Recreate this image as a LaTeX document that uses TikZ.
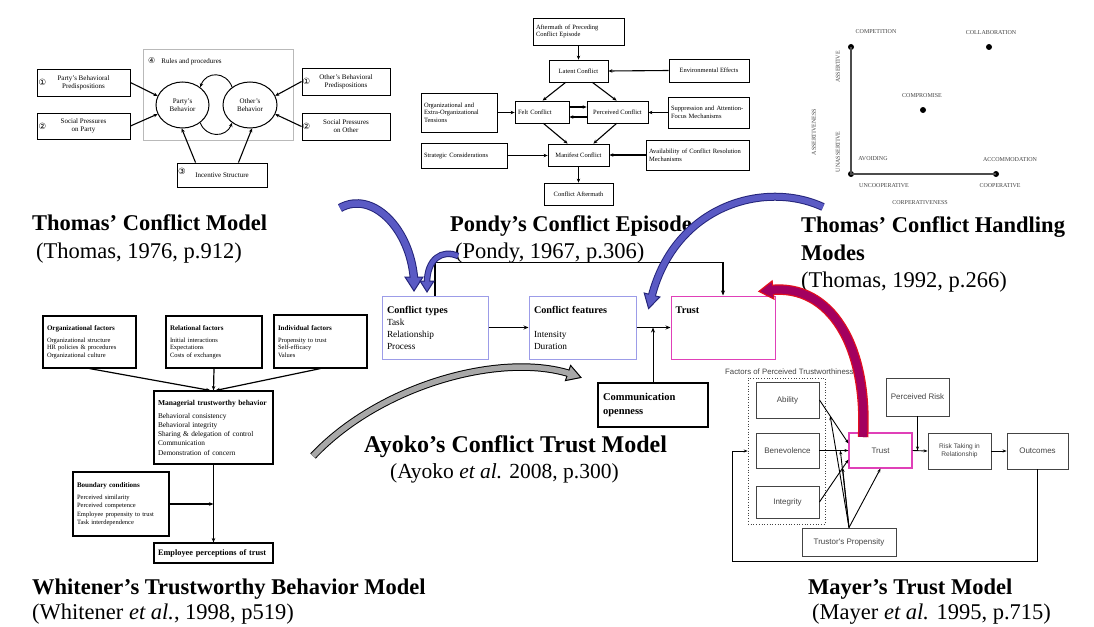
\documentclass[tikz,border=0pt]{standalone}
\usepackage{fontspec}
\setmainfont{Liberation Serif}
\newfontfamily\sansf{Liberation Sans}
\newfontfamily\symf{DejaVu Sans}
\usetikzlibrary{arrows.meta,shapes.geometric,calc}
\definecolor{lav}{HTML}{9C9CE8}
\definecolor{pinkb}{HTML}{E040B8}
\definecolor{bluefill}{HTML}{5A5AC4}
\definecolor{blueline}{HTML}{24247A}
\definecolor{redfill}{HTML}{A3005F}
\definecolor{redline}{HTML}{E2101E}
\definecolor{greyfill}{HTML}{A8A8A8}
\definecolor{mgray}{HTML}{444444}
\newcommand{\setfs}[2]{\fontsize{#1}{#2}\selectfont}

\begin{document}
\begin{tikzpicture}[x=1pt,y=-1pt,
  every node/.style={inner sep=0pt},
  % Thomas' conflict model
  tcm/.style={draw, line width=0.9pt, font=\setfs{7}{8}, align=center},
  circ/.style={font=\symf\setfs{8.5}{9}, anchor=west},
  tarr/.style={->, line width=1.1pt, >={Stealth[length=4pt,width=3.5pt]}},
  % Pondy's episode
  pbx/.style={draw, line width=0.8pt, font=\setfs{6.5}{7.6}, align=center},
  pbl/.style={pbx, align=left, inner xsep=3pt, text width=#1},
  parr/.style={->, line width=1.1pt, >={Stealth[length=4pt,width=3.5pt]}},
  % handling modes
  mode/.style={font=\setfs{6}{7}, text=mgray},
  mdot/.style={circle, fill=black, minimum size=6pt},
  % Ayoko's model
  abx/.style={draw=lav, line width=1pt, align=left, inner xsep=5pt, text width=#1, font=\setfs{9.3}{12}},
  aarr/.style={->, line width=1pt, >={Stealth[length=5pt,width=4pt]}},
  % Whitener's model
  wbx/.style={draw, line width=1.1pt, align=left, inner xsep=4pt, text width=#1, font=\setfs{6.5}{7.5}},
  warr/.style={->, line width=1.2pt, >={Stealth[length=4.5pt,width=3.5pt]}},
  % Mayer's model
  mbx/.style={draw=mgray, line width=0.9pt, font=\sansf\setfs{8}{9.5}, text=mgray, align=center},
  marr/.style={->, line width=0.9pt, >={Stealth[length=4pt,width=3pt]}},
  % captions
  ttl/.style={anchor=base west, font=\bfseries\setfs{22.5}{27}},
  cite/.style={anchor=base west, font=\setfs{22.5}{27}},
]
\path[use as bounding box, fill=white] (0,0) rectangle (1094,626);

% ---------------- Thomas' Conflict Model ----------------
\node[draw=gray!55, line width=0.9pt, minimum width=150pt, minimum height=91pt] (rules) at (218,94.5) {};
\node[anchor=west, font=\setfs{7}{8}] (rulestxt) at (148,61) {{\symf\setfs{8}{9}④}\hspace{6pt}Rules and procedures};
\node[ellipse, draw, line width=1pt, minimum width=53pt, minimum height=46pt, align=center, font=\setfs{7}{8}] (party) at (182.5,105) {Party's\\Behavior};
\node[ellipse, draw, line width=1pt, minimum width=54pt, minimum height=46pt, align=center, font=\setfs{7}{8}] (other) at (250,105) {Other's\\Behavior};
\draw[tarr, line width=0.9pt] (other.135) .. controls (226,71) and (206,71) .. (party.45);
\draw[tarr, line width=0.9pt] (party.-45) .. controls (206,138) and (226,138) .. (other.-135);

\node[tcm, minimum width=93pt, minimum height=27pt] (pbp) at (83.5,82.5) {Party's Behavioral\\Predispositions};
\node[circ] (n1a) at (38.5,82.5) {①};
\node[tcm, minimum width=93pt, minimum height=26pt] (spp) at (83.5,126) {Social Pressures\\on Party};
\node[circ] (n2a) at (38.5,126) {②};
\node[tcm, minimum width=88pt, minimum height=27pt] (obp) at (346,81.5) {Other's Behavioral\\Predispositions};
\node[circ] (n1b) at (302.5,81.5) {①};
\node[tcm, minimum width=88pt, minimum height=27pt] (spo) at (346,126.5) {Social Pressures\\on Other};
\node[circ] (n2b) at (302.5,126.5) {②};
\node[tcm, minimum width=90pt, minimum height=24pt] (inc) at (222,175) {Incentive Structure};
\node[circ] (n3) at (178,171) {③};

\draw[tarr] (pbp.east) -- (party.160);
\draw[tarr] (spp.east) -- (party.200);
\draw[tarr] (obp.west) -- (other.20);
\draw[tarr] (spo.west) -- (other.-20);
\draw[tarr] ([xshift=19pt]inc.north west) -- (party.-92);
\draw[tarr] ([xshift=-29pt]inc.north east) -- (other.-85);

% ---------------- Pondy's Conflict Episode ----------------
\node[pbl=85, minimum height=27pt] (pa) at (578.5,31.5) {Aftermath of Preceding\\Conflict Episode};
\node[pbx, minimum width=59pt, minimum height=22pt] (lat) at (578.5,71) {Latent Conflict};
\node[pbx, minimum width=80pt, minimum height=23pt] (env) at (709,70.5) {Environmental Effects};
\node[pbl=48, minimum height=22pt] (felt) at (542,112) {Felt Conflict};
\node[pbx, minimum width=61pt, minimum height=22pt] (perc) at (617.5,112) {Perceived Conflict};
\node[pbl=70, minimum height=39pt] (org) at (459,112.5) {Organizational and\\Extra-Organizational\\Tensions};
\node[pbl=75, minimum height=31pt] (sup) at (708.5,112.5) {Suppression and Attention-\\Focus Mechanisms};
\node[pbl=80, minimum height=25pt] (strat) at (464,155.5) {Strategic Considerations};
\node[pbx, minimum width=61pt, minimum height=22pt] (man) at (578.5,155) {Manifest Conflict};
\node[pbl=97, minimum height=30pt] (avail) at (697.5,155) {Availability of Conflict Resolution\\Mechanisms};
\node[pbx, minimum width=69pt, minimum height=22pt] (aft) at (578.5,194) {Conflict Aftermath};

\draw[parr] (pa.south) -- (lat.north);
\draw[parr] (env.west) -- (lat.east);
\draw[parr] ([xshift=17pt]lat.south west) -- ([xshift=28pt]felt.north west);
\draw[parr] ([xshift=-16pt]lat.south east) -- ([xshift=30pt]perc.north west);
\draw[parr] ([yshift=5pt]felt.east) -- ([yshift=5pt]perc.west);
\draw[parr] ([yshift=-5pt]perc.west) -- ([yshift=-5pt]felt.east);
\draw[parr] (org.east) -- (org.east -| felt.west);
\draw[parr] (sup.west) -- (sup.west -| perc.east);
\draw[parr] ([xshift=-26pt]felt.south east) -- ([xshift=20pt]man.north west);
\draw[parr] ([xshift=30pt]perc.south west) -- ([xshift=-16pt]man.north east);
\draw[parr] (strat.east) -- (strat.east -| man.west);
\draw[parr] (avail.west) -- (man.east);
\draw[parr] (man.south) -- (aft.north);

% ---------------- Thomas' Conflict Handling Modes ----------------
\node[mdot] (dcomp) at (851,47) {};
\node[mdot] (dcoll) at (989,47) {};
\node[mdot] (dmid) at (923,110) {};
\node[mdot] (davoid) at (851,174) {};
\node[mdot] (dacc) at (996,174) {};
\draw[line width=1.1pt, gray!60!black] (dcomp.center) -- (davoid.center) -- (dacc.center);
\node[mode] (lcomp) at (876,32) {COMPETITION};
\node[mode] (lcoll) at (991,33) {COLLABORATION};
\node[mode] (lmid) at (922,96) {COMPROMISE};
\node[mode] (lavoid) at (873,159) {AVOIDING};
\node[mode] (lacc) at (1010,160) {ACCOMMODATION};
\node[mode] (lunco) at (884,186) {UNCOOPERATIVE};
\node[mode] (lco) at (1000,186) {COOPERATIVE};
\node[mode] (lcoop) at (920,203) {CORPERATIVENESS};
\node[mode, rotate=90] (lass) at (838,67) {ASSERTIVE};
\node[mode, rotate=90] (lunass) at (838,152) {UNASSERTIVE};
\node[mode, rotate=90] (lassn) at (814,132) {ASSERTIVENESS};

% ---------------- Ayoko's Conflict Trust Model ----------------
\node[abx=96, minimum height=63pt] (ct) at (435,327.5) {{\bfseries\setfs{10.2}{12}Conflict types}\\Task\\Relationship\\Process};
\node[abx=97, minimum height=63pt] (cf) at (582.5,327.5) {{\bfseries\setfs{10.2}{12}Conflict features}\\\mbox{}\\Intensity\\Duration};
\node[draw=pinkb, line width=1pt, minimum width=104pt, minimum height=63pt] (tr) at (723,327.5) {};
\node[anchor=north west, font=\bfseries\setfs{10.2}{12}] (trl) at ([xshift=5pt,yshift=-11pt]tr.north west) {Trust};
\node[draw, line width=1.2pt, align=left, inner xsep=5pt, text width=100pt, minimum height=44pt, font=\bfseries\setfs{10.5}{14}] (co) at (653,405) {Communication\\openness};

\draw[aarr] (ct.east) -- (cf.west);
\draw[aarr] (cf.east) -- (tr.west);
\draw[aarr] (co.north) -- (co.north |- cf.east);
\draw[aarr, line width=1.2pt] (ct.north) -- ++(0,-33) -| (tr.north);

% ---------------- Whitener's Trustworthy Behavior Model ----------------
\node[wbx=85, minimum height=52pt] (of) at (89.5,342) {{\bfseries\setfs{7}{7.5}Organizational factors}\\[4pt]Organizational structure\\HR policies \& procedures\\Organizational culture};
\node[wbx=88, minimum height=52pt] (rf) at (214,342) {{\bfseries\setfs{7}{7.5}Relational factors}\\[4pt]Initial interactions\\Expectations\\Costs of exchanges};
\node[wbx=85, minimum height=53pt] (if) at (320.5,341.5) {{\bfseries\setfs{7}{7.5}Individual factors}\\[4pt]Propensity to trust\\Self-efficacy\\Values};
\node[wbx=111, minimum height=73pt, font=\setfs{7.3}{9.2}] (mb) at (213.5,427.5) {{\bfseries\setfs{7.5}{9.2}Managerial trustworthy behavior}\\[4pt]Behavioral consistency\\Behavioral integrity\\Sharing \& delegation of control\\Communication\\Demonstration of concern};
\node[wbx=88, minimum height=64pt, font=\setfs{6.5}{8.3}] (bc) at (121,504) {{\bfseries\setfs{7}{8.3}Boundary conditions}\\[4pt]Perceived similarity\\Perceived competence\\Employee propensity to trust\\Task interdependence};
\node[wbx=111, minimum height=20pt, font=\bfseries\setfs{8.3}{9}] (ep) at (213.5,553) {Employee perceptions of trust};

\draw[warr] (of.south) -- ([xshift=-3pt]mb.north);
\draw[warr] (rf.south) -- (mb.north);
\draw[warr] (if.south) -- ([xshift=2pt]mb.north);
\draw[warr] (mb.south) -- (ep.north);
\draw[warr] (bc.east) -- (bc.east -| mb.south);

% ---------------- Mayer's Trust Model ----------------
\node[draw=mgray, dotted, line width=0.7pt, minimum width=77pt, minimum height=146pt] (fac) at (786.5,451) {};
\node[anchor=west, font=\sansf\setfs{7.8}{9}, text=mgray] (factl) at (725,372) {Factors of Perceived Trustworthiness};
\node[mbx, minimum width=63pt, minimum height=36pt] (ab) at (787.5,400) {Ability};
\node[mbx, minimum width=63pt, minimum height=35pt] (be) at (787.5,450.5) {Benevolence};
\node[mbx, minimum width=63pt, minimum height=32pt] (itg) at (787.5,502) {Integrity};
\node[mbx, draw=pinkb, line width=1.1pt, minimum width=63pt, minimum height=35pt] (mt) at (880.5,450.5) {Trust};
\node[mbx, minimum width=63pt, minimum height=38pt] (pr) at (917.5,397) {Perceived Risk};
\node[mbx, minimum width=63pt, minimum height=36pt, font=\sansf\setfs{6.6}{8}] (rt) at (959.5,451) {Risk Taking in\\Relationship};
\node[mbx, minimum width=61pt, minimum height=36pt] (oc) at (1037.5,451) {Outcomes};
\node[mbx, minimum width=94pt, minimum height=28pt] (tp) at (849,542) {Trustor's Propensity};

\coordinate (mA) at ($(ab.east)!0.37!([yshift=7pt]mt.west)$);
\coordinate (mB) at ($(be.east)!0.72!(mt.west)$);
\coordinate (mC) at ($(itg.east)!0.8!([yshift=-9pt]mt.west)$);
\coordinate (fb) at (732,561);

\draw[marr] (ab.east) -- ([yshift=7pt]mt.west);
\draw[marr] (be.east) -- (mt.west);
\draw[marr] (itg.east) -- ([yshift=-9pt]mt.west);
\draw[marr] (tp.north) -- (mA);
\draw[marr] (tp.north) -- (mB);
\draw[marr] (tp.north) -- (mC);
\draw[marr] (tp.north) -- (mt.south);
\draw[marr] (mt.east) -- (rt.west);
\draw[marr] (pr.south) -- (pr.south |- mt.east);
\draw[marr] (rt.east) -- (oc.west);
\draw[marr] (oc.south) |- (fb) |- (fac.west);

% ---------------- captions ----------------
\node[ttl] (t1) at (32,230) {Thomas' Conflict Model};
\node[cite] (r1) at (36,258) {(Thomas, 1976, p.912)};
\node[ttl] (t2) at (450,231) {Pondy's Conflict Episode};
\node[cite] (r2) at (455,258) {(Pondy, 1967, p.306)};
\node[ttl] (t3a) at (801,232) {Thomas' Conflict Handling};
\node[ttl] (t3b) at (801,260) {Modes};
\node[cite] (r3) at (801,287) {(Thomas, 1992, p.266)};
\node[ttl, font=\bfseries\setfs{24}{28}] (t4) at (364,452) {Ayoko's Conflict Trust Model};
\node[cite, font=\setfs{21.5}{26}] (r4) at (390,478) {(Ayoko \textit{et al.} 2008, p.300)};
\node[ttl] (t5) at (32,594) {Whitener's Trustworthy Behavior Model};
\node[cite] (r5) at (32,619) {(Whitener \textit{et al.}, 1998, p519)};
\node[ttl] (t6) at (808,594) {Mayer's Trust Model};
\node[cite] (r6) at (812,619) {(Mayer \textit{et al.} 1995, p.715)};

% ---------------- curved block arrows ----------------
% from the conflict model to conflict types
\draw[blueline, line width=8.5pt] (340,208) .. controls (372,190) and (410,228) .. (414,279);
\filldraw[fill=bluefill, draw=blueline, line width=1pt] (405,277) -- (423,277) -- (414,291) -- cycle;
\draw[bluefill, line width=6.5pt] (340,208) .. controls (372,190) and (410,228) .. (414,279);
% from the conflict episode to conflict types
\draw[blueline, line width=6.5pt] (458,256) .. controls (442,249) and (427,259) .. (427,283);
\filldraw[fill=bluefill, draw=blueline, line width=1pt] (420,281) -- (434,281) -- (427,292) -- cycle;
\draw[bluefill, line width=4.5pt] (458,256) .. controls (442,249) and (427,259) .. (427,283);
% from the handling modes to conflict features
\draw[blueline, line width=8pt] (823,207) .. controls (765,180) and (675,205) .. (651.5,297);
\filldraw[fill=bluefill, draw=blueline, line width=1pt] (659.8,297) -- (644.2,293) -- (648.6,308.6) -- cycle;
\draw[bluefill, line width=6pt] (823,207) .. controls (765,180) and (675,205) .. (651.5,297);
% from Mayer's trust to trust
\draw[redline, line width=10.5pt] (863,437) .. controls (868,345) and (830,284) .. (771,290);
\filldraw[fill=redfill, draw=redline, line width=1.2pt] (773.9,299) -- (772.1,281) -- (759,291.4) -- cycle;
\draw[redfill, line width=8pt] (863,437) .. controls (868,345) and (830,284) .. (771,290);
% from managerial behavior to the trust model
\draw[black, line width=7.5pt] (313,456) .. controls (380,385) and (500,352) .. (569.5,373.6);
\filldraw[fill=greyfill, draw=black, line width=1pt] (565.4,380.6) -- (570.6,365.4) -- (581,377.5) -- cycle;
\draw[greyfill, line width=5.5pt] (313,456) .. controls (380,385) and (500,352) .. (569.5,373.6);
\end{tikzpicture}
\end{document}
